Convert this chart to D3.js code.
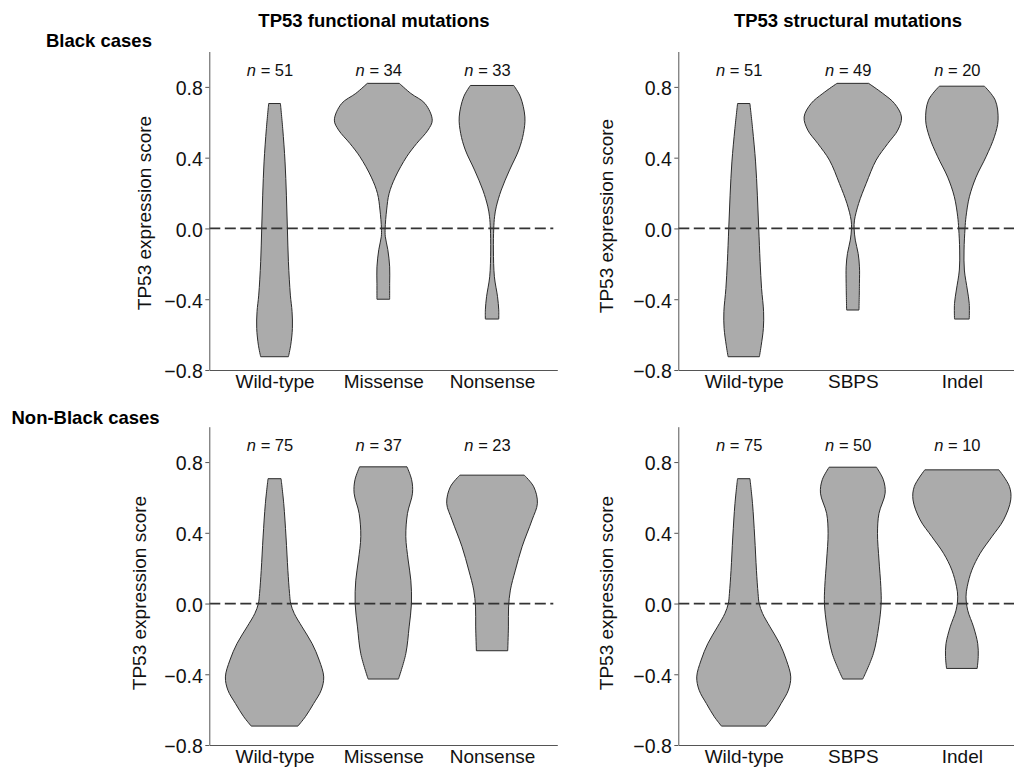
<!DOCTYPE html>
<html>
<head>
<meta charset="utf-8">
<script src="https://cdn.jsdelivr.net/npm/d3@7"></script>
<style>
  body { margin: 0; background: #fff; }
  svg { display: block; font-family: "Liberation Sans", Arial, sans-serif; }
</style>
</head>
<body>
<svg id="chart" width="1014" height="769"></svg>
<script>
/*** chart values ***/
var rowTitles = ["Black cases", "Non-Black cases"];
var colTitles = ["TP53 functional mutations", "TP53 structural mutations"];
var funcCats = ["Wild-type", "Missense", "Nonsense"];
var structCats = ["Wild-type", "SBPS", "Indel"];
var yTicks = [-0.8, -0.4, 0.0, 0.4, 0.8];

var nBlackFunc = [51, 34, 33];
var nBlackStruct = [51, 49, 20];
var nNonBlackFunc = [75, 37, 23];
var nNonBlackStruct = [75, 50, 10];

// violin outlines: [expression score, full width in category steps]
var blackFuncWild = [[0.706,0.108],[0.565,0.15],[0.376,0.193],[0.188,0.218],[0,0.236],[-0.188,0.255],[-0.377,0.291],[-0.47,0.322],[-0.565,0.328],[-0.66,0.297],[-0.725,0.255]];
var blackMissense = [[0.82,0.294],[0.763,0.506],[0.706,0.767],[0.612,0.9],[0.556,0.822],[0.48,0.613],[0.405,0.429],[0.29,0.221],[0.198,0.107],[0.104,0.061],[0,0.034],[-0.047,0.037],[-0.12,0.083],[-0.217,0.117],[-0.31,0.117],[-0.40,0.117]];
var blackNonsense = [[0.808,0.399],[0.744,0.521],[0.63,0.604],[0.537,0.577],[0.443,0.491],[0.33,0.322],[0.217,0.169],[0.122,0.077],[0.066,0.046],[0,0.031],[-0.122,0.025],[-0.273,0.043],[-0.386,0.101],[-0.46,0.123],[-0.512,0.123]];

var blackStructWild = [[0.706,0.113],[0.565,0.162],[0.376,0.217],[0.188,0.25],[0,0.275],[-0.188,0.3],[-0.339,0.327],[-0.47,0.364],[-0.565,0.36],[-0.66,0.321],[-0.725,0.287]];
var blackSBPS = [[0.82,0.29],[0.763,0.55],[0.706,0.765],[0.63,0.893],[0.556,0.826],[0.48,0.642],[0.386,0.428],[0.254,0.245],[0.141,0.107],[0.047,0.031],[0,0.024],[-0.066,0.046],[-0.141,0.098],[-0.217,0.122],[-0.31,0.122],[-0.461,0.113]];
var blackIndel = [[0.804,0.413],[0.725,0.612],[0.612,0.664],[0.518,0.596],[0.405,0.443],[0.29,0.26],[0.179,0.138],[0.066,0.076],[0,0.058],[-0.122,0.04],[-0.235,0.046],[-0.348,0.101],[-0.424,0.135],[-0.512,0.135]];

var nonBlackFuncWild = [[0.706,0.12],[0.565,0.169],[0.376,0.211],[0.188,0.245],[0.056,0.276],[0,0.297],[-0.056,0.362],[-0.132,0.506],[-0.226,0.69],[-0.32,0.821],[-0.415,0.904],[-0.49,0.858],[-0.565,0.72],[-0.64,0.567],[-0.693,0.429]];
var nonBlackMissense = [[0.773,0.436],[0.7,0.521],[0.624,0.537],[0.51,0.445],[0.378,0.414],[0.246,0.457],[0.132,0.506],[0,0.518],[-0.132,0.475],[-0.284,0.414],[-0.427,0.279]];
var nonBlackNonsense = [[0.726,0.592],[0.66,0.767],[0.567,0.834],[0.473,0.736],[0.321,0.552],[0.189,0.429],[0.076,0.337],[-0.019,0.304],[-0.132,0.301],[-0.267,0.288]];

var nonBlackStructWild = [[0.706,0.114],[0.565,0.161],[0.376,0.201],[0.188,0.233],[0.056,0.263],[0,0.283],[-0.056,0.345],[-0.132,0.482],[-0.226,0.658],[-0.32,0.782],[-0.415,0.862],[-0.49,0.818],[-0.565,0.686],[-0.64,0.54],[-0.693,0.409]];
var nonBlackSBPS = [[0.771,0.434],[0.7,0.56],[0.624,0.593],[0.51,0.48],[0.397,0.453],[0.246,0.48],[0.095,0.514],[0,0.52],[-0.132,0.474],[-0.284,0.376],[-0.427,0.183]];
var nonBlackIndel = [[0.756,0.679],[0.662,0.872],[0.586,0.896],[0.473,0.765],[0.378,0.55],[0.284,0.336],[0.189,0.183],[0.095,0.098],[0.038,0.076],[-0.038,0.107],[-0.132,0.214],[-0.227,0.291],[-0.3,0.3],[-0.367,0.281]];

/*** layout ***/
var svg = d3.select("#chart");
var colX = [[209.3, 557.3], [678.3, 1027.3]];
var rowY = [[370, 51.5], [745, 426.7]];

var panels = [
  {row: 0, col: 0, cats: funcCats, n: nBlackFunc, violins: [blackFuncWild, blackMissense, blackNonsense], titleX: 151, titleY: 213},
  {row: 0, col: 1, cats: structCats, n: nBlackStruct, violins: [blackStructWild, blackSBPS, blackIndel], titleX: 612.5, titleY: 216},
  {row: 1, col: 0, cats: funcCats, n: nNonBlackFunc, violins: [nonBlackFuncWild, nonBlackMissense, nonBlackNonsense], titleX: 146, titleY: 593},
  {row: 1, col: 1, cats: structCats, n: nNonBlackStruct, violins: [nonBlackStructWild, nonBlackSBPS, nonBlackIndel], titleX: 612.5, titleY: 593}
];

var fmt = d3.format(".1f");

panels.forEach(function(p) {
  var x = d3.scalePoint().domain(p.cats).range(colX[p.col]).padding(0.6);
  var y = d3.scaleLinear().domain([-0.8, 1.0]).range(rowY[p.row]);
  var step = x.step();
  var g = svg.append("g");

  // violins
  p.violins.forEach(function(prof, i) {
    var cx = x(p.cats[i]);
    var area = d3.area()
      .curve(d3.curveCatmullRom)
      .y(function(d) { return y(d[0]); })
      .x0(function(d) { return cx - d[1] * step / 2; })
      .x1(function(d) { return cx + d[1] * step / 2; });
    g.append("path")
      .datum(prof)
      .attr("d", area)
      .attr("fill", "#ababab")
      .attr("stroke", "#2b2b2b")
      .attr("stroke-width", 1);
  });

  // reference line at zero
  g.append("line")
    .attr("x1", colX[p.col][0]).attr("x2", colX[p.col][1] - 4)
    .attr("y1", y(0)).attr("y2", y(0))
    .attr("stroke", "#333")
    .attr("stroke-width", 1.8)
    .attr("stroke-dasharray", "11,4.5");

  // y axis
  var ya = g.append("g")
    .attr("transform", "translate(" + colX[p.col][0] + ",0)")
    .call(d3.axisLeft(y).tickValues(yTicks).tickFormat(fmt).tickSize(4).tickSizeOuter(0).tickPadding(2.5));
  ya.selectAll("text").attr("font-size", 19.5).attr("fill", "#111").attr("dy", "0.4em");
  ya.selectAll("line, path").attr("stroke", "#555");

  // x axis
  var xa = g.append("g")
    .attr("transform", "translate(0," + rowY[p.row][0] + ")")
    .call(d3.axisBottom(x).tickSize(0).tickSizeOuter(0).tickPadding(5));
  xa.selectAll("text").attr("font-size", 19).attr("fill", "#111");
  xa.selectAll("path").attr("stroke", "#555");

  // n labels
  p.cats.forEach(function(c, i) {
    var t = g.append("text")
      .attr("x", x(c) - 4.5)
      .attr("y", y(0.8) - 11)
      .attr("text-anchor", "middle")
      .attr("font-size", 16.5)
      .attr("fill", "#111");
    t.append("tspan").attr("font-style", "italic").text("n");
    t.append("tspan").text(" = " + p.n[i]);
  });

  // y title
  g.append("text")
    .attr("transform", "translate(" + p.titleX + "," + p.titleY + ") rotate(-90)")
    .attr("text-anchor", "middle")
    .attr("font-size", 19)
    .attr("fill", "#111")
    .text("TP53 expression score");
});

// column titles
svg.append("text").attr("x", 374).attr("y", 27).attr("text-anchor", "middle")
  .attr("font-size", 18.5).attr("font-weight", "bold").text(colTitles[0]);
svg.append("text").attr("x", 848).attr("y", 27).attr("text-anchor", "middle")
  .attr("font-size", 18.5).attr("font-weight", "bold").text(colTitles[1]);

// row titles
svg.append("text").attr("x", 46).attr("y", 47)
  .attr("font-size", 18.5).attr("font-weight", "bold").text(rowTitles[0]);
svg.append("text").attr("x", 11.5).attr("y", 423.5)
  .attr("font-size", 18.5).attr("font-weight", "bold").text(rowTitles[1]);
</script>
</body>
</html>
